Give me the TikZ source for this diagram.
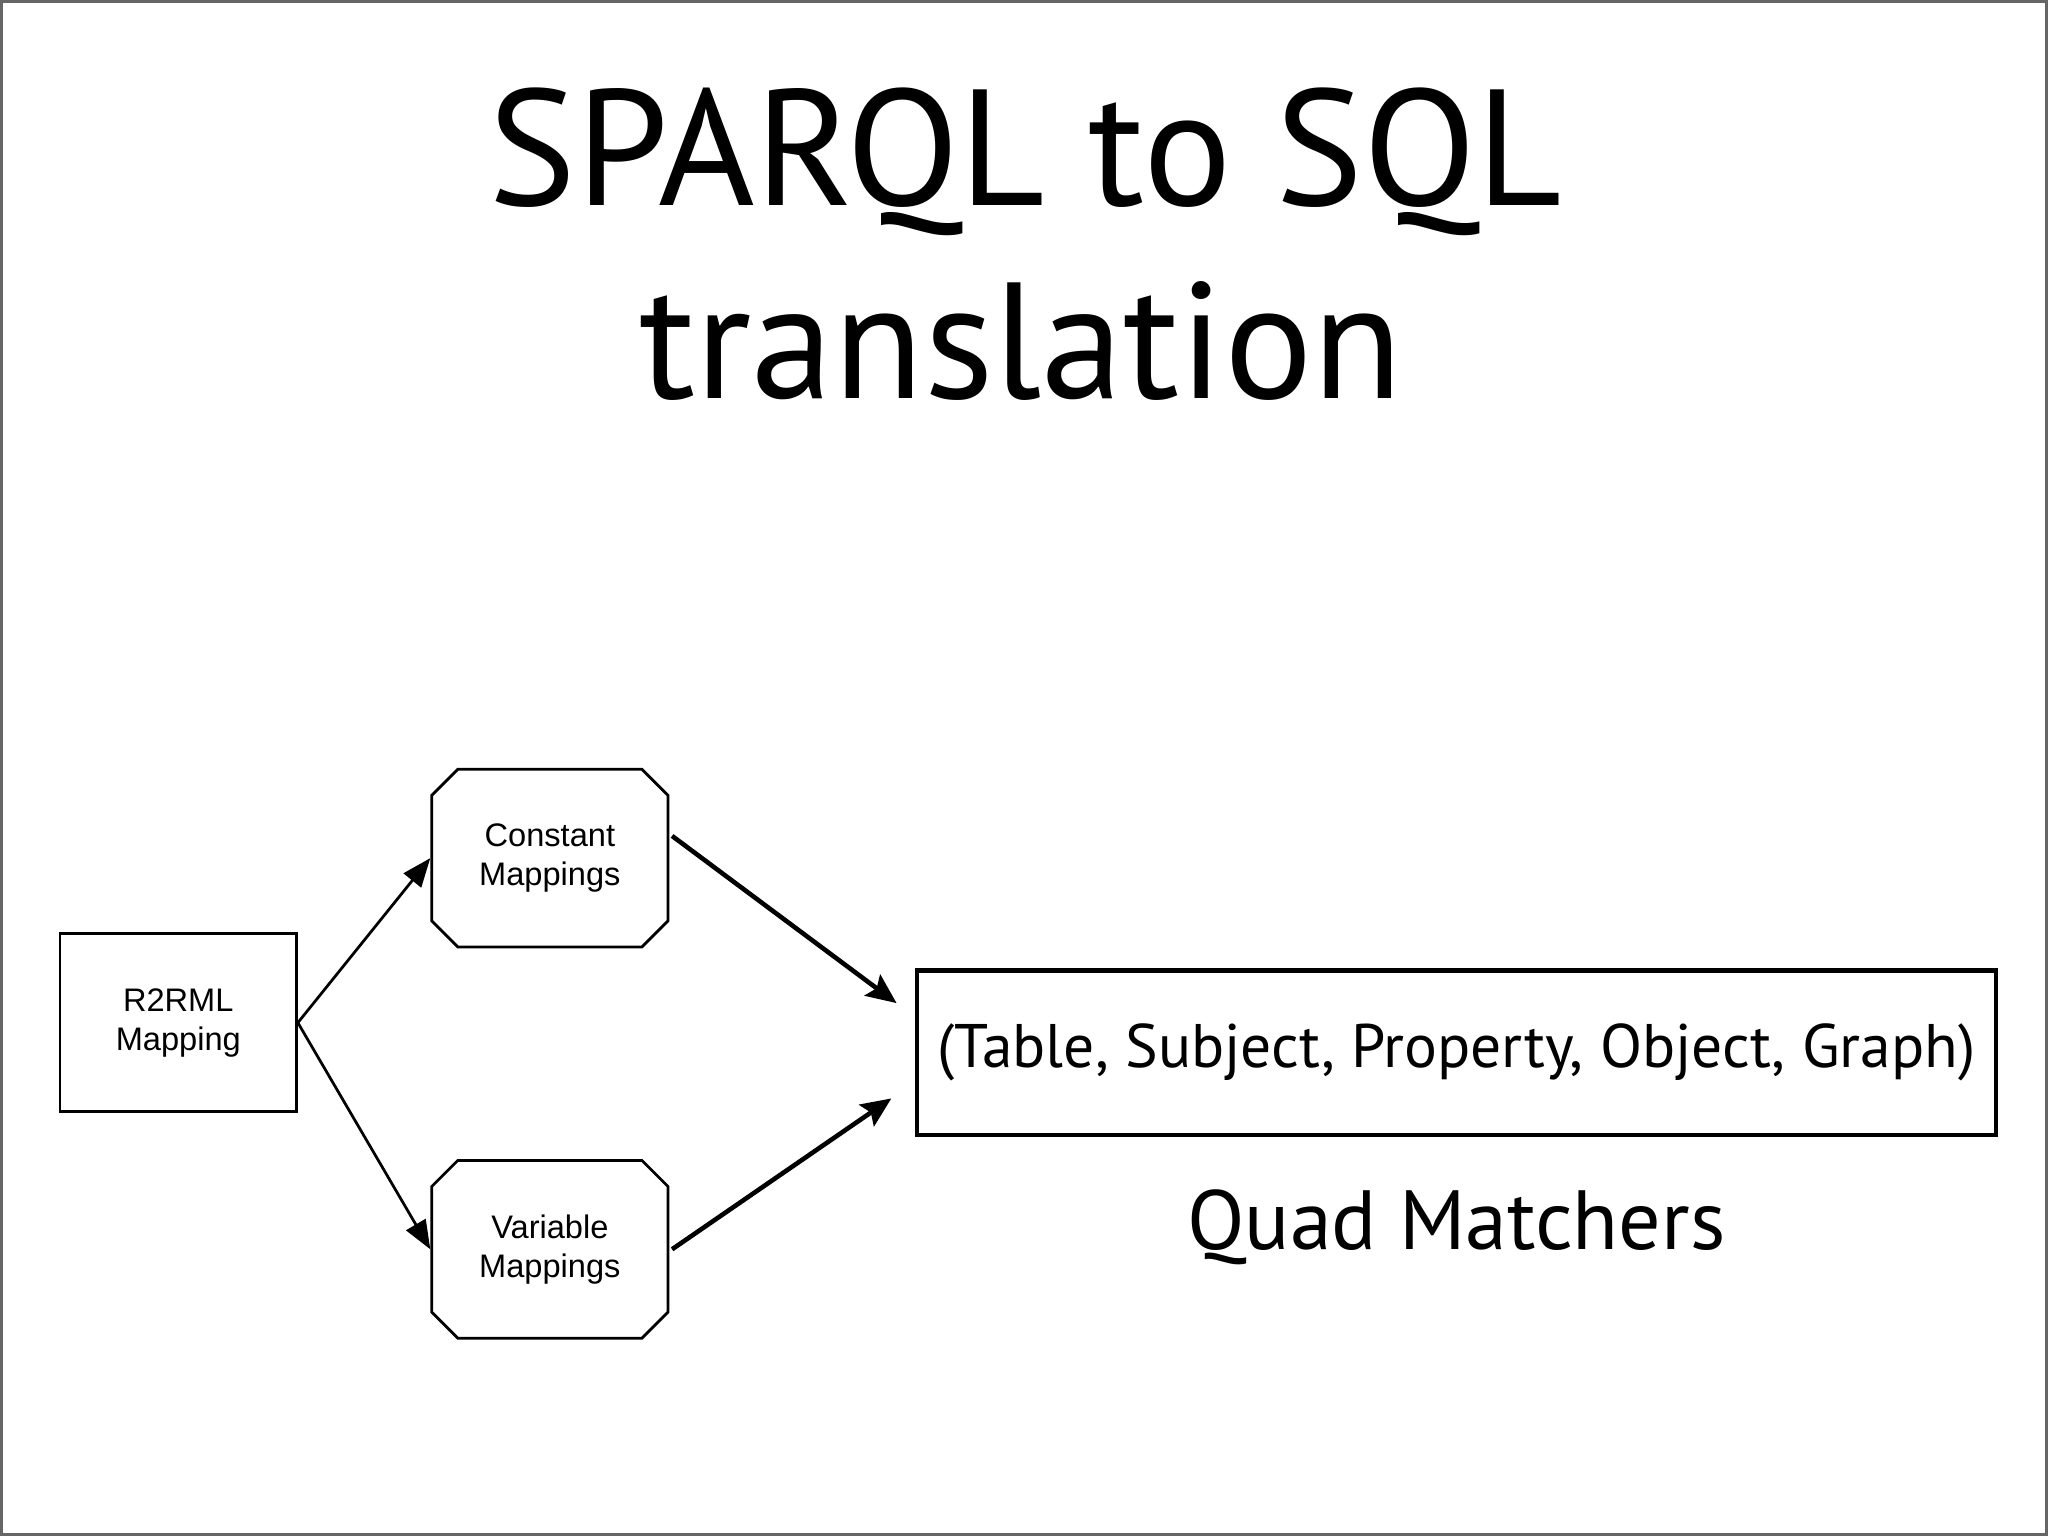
\documentclass[tikz,border=0pt]{standalone}
\usepackage{fontspec}
\setmainfont{Liberation Sans}
\newfontfamily\gill{PT Sans}
\usetikzlibrary{shapes.misc,arrows.meta,calc}
\begin{document}
\begin{tikzpicture}[
  smallbox/.style={draw, line width=0.6pt, minimum width=1.81cm, minimum height=1.36cm, inner sep=0pt, align=center, font=\fontsize{7.1}{8.5}\selectfont},
  octbox/.style={smallbox, chamfered rectangle, chamfered rectangle xsep=0.1cm, chamfered rectangle ysep=0.1cm},
  bigbox/.style={draw, line width=0.9pt, minimum width=8.26cm, minimum height=1.26cm, inner sep=0pt, font=\gill\fontsize{13.4}{16}\selectfont},
  titletext/.style={font=\gill\fontsize{36}{42}\selectfont, anchor=base, inner sep=0pt},
  labeltext/.style={font=\gill\fontsize{18.3}{22}\selectfont, anchor=base, inner sep=0pt},
  thinarrow/.style={line width=0.6pt, -{Triangle[length=2.2mm,width=1.7mm]}},
  thickarrow/.style={line width=1pt, -{Stealth[length=2.3mm,width=2mm,inset=0.4mm]}}
]
\useasboundingbox (0,0) rectangle (15.68,-11.76);
\draw[black!60, line width=0.6pt] (0.01,-0.01) rectangle (15.67,-11.75);

\node[titletext] (t1) at (7.85,-1.57) {SPARQL to SQL};
\node[titletext] (t2) at (7.82,-3.05) {translation};

\node[smallbox] (R) at (1.365,-7.83) {R2RML\\Mapping};
\node[octbox] (C) at (4.21,-6.57) {Constant\\Mappings};
\node[octbox] (V) at (4.21,-9.565) {Variable\\Mappings};
\node[bigbox] (Q) at (11.15,-8.06) {(Table, Subject, Property, Object, Graph)};
\node[labeltext] (qm) at (11.15,-9.57) {Quad Matchers};

\draw[thinarrow] (R.east) -- (C.west);
\draw[thinarrow] (R.east) -- (V.west);
\draw[thickarrow] ($(C.east)+(0.02,0.17)$) -- ($(Q.west)+(-0.14,0.38)$);
\draw[thickarrow] ($(V.east)+(0.02,0)$) -- ($(Q.west)+(-0.18,-0.35)$);
\end{tikzpicture}
\end{document}
